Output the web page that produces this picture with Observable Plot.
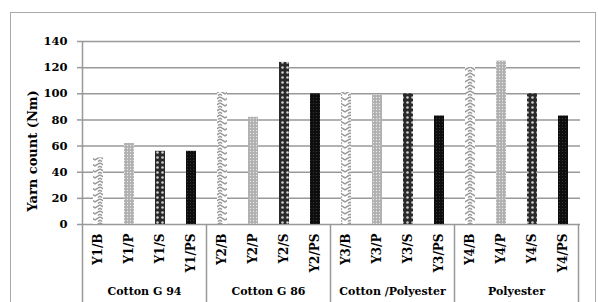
<!DOCTYPE html>
<html><head><meta charset="utf-8">
<script src="https://cdn.jsdelivr.net/npm/d3@7"></script>
<script src="https://cdn.jsdelivr.net/npm/@observablehq/plot@0.6"></script>
<style>
body{margin:0;background:#fff;}
#wrap{position:relative;width:598px;height:302px;overflow:hidden;}
#border{position:absolute;left:10px;top:12px;width:584px;height:300px;border:1.5px solid #aaa;border-bottom:none;pointer-events:none;}
svg{position:absolute;left:0;top:0;}
svg text{font-family:"DejaVu Serif",serif;font-weight:bold;}
</style>
</head><body>
<div id="wrap"><div id="border"></div></div>
<script>
const groups = ["Cotton G 94", "Cotton G 86", "Cotton /Polyester", "Polyester"];
const types = ["B", "P", "S", "PS"];
const labels = ["Y1/B","Y1/P","Y1/S","Y1/PS","Y2/B","Y2/P","Y2/S","Y2/PS","Y3/B","Y3/P","Y3/S","Y3/PS","Y4/B","Y4/P","Y4/S","Y4/PS"];
const values = [51, 62, 56, 56, 101, 82, 124, 100, 101, 99, 100, 83, 120, 125, 100, 83];
const yTicks = [0, 20, 40, 60, 80, 100, 120, 140];
const yTitle = "Yarn count (Nm)";

const data = labels.map((l, i) => ({label: l, value: values[i], type: types[i % 4], group: groups[Math.floor(i / 4)]}));

const font = "DejaVu Serif";
const plot = Plot.plot({
  width: 598, height: 302,
  marginLeft: 81, marginRight: 18, marginTop: 41, marginBottom: 78,
  style: {fontFamily: font, fontWeight: "bold", fontSize: "12px", color: "#000", background: "transparent"},
  x: {domain: labels, paddingInner: 0.68, paddingOuter: 0.34, tickRotate: -90, tickSize: 0, tickPadding: 9, label: null},
  y: {domain: [0, 140], ticks: yTicks, tickSize: 4, tickPadding: 10, label: null},
  color: {type: "ordinal", domain: types, range: ["url(#pB)", "url(#pP)", "url(#pS)", "url(#pPS)"]},
  marks: [
    Plot.gridY(yTicks, {stroke: "#999", strokeOpacity: 1, strokeWidth: 1.5}),
    Plot.barY(data, {x: "label", y: "value", fill: "type"})
  ]
});

const svg = d3.select(plot);
const defs = svg.insert("defs", ":first-child");
const pB = defs.append("pattern").attr("id", "pB").attr("patternUnits", "userSpaceOnUse").attr("width", 10).attr("height", 6);
pB.append("rect").attr("width", 10).attr("height", 6).attr("fill", "#fff");
pB.append("path").attr("d", "M0,1 L5,4 L10,1 M0,4 L2,5.5 M8,5.5 L10,4").attr("stroke", "#999").attr("stroke-width", 1.5).attr("fill", "none");
const pP = defs.append("pattern").attr("id", "pP").attr("patternUnits", "userSpaceOnUse").attr("width", 3).attr("height", 3);
pP.append("rect").attr("width", 3).attr("height", 3).attr("fill", "#b0b0b0");
pP.append("circle").attr("cx", 1.5).attr("cy", 1.5).attr("r", 0.7).attr("fill", "#e8e8e8");
const pS = defs.append("pattern").attr("id", "pS").attr("patternUnits", "userSpaceOnUse").attr("width", 5).attr("height", 5);
pS.append("rect").attr("width", 5).attr("height", 5).attr("fill", "#2a2a2a");
pS.append("circle").attr("cx", 2.5).attr("cy", 2.5).attr("r", 1.3).attr("fill", "#d0d0d0");
const pPS = defs.append("pattern").attr("id", "pPS").attr("patternUnits", "userSpaceOnUse").attr("width", 3).attr("height", 3);
pPS.append("rect").attr("width", 3).attr("height", 3).attr("fill", "#0e0e0e");
pPS.append("circle").attr("cx", 1.5).attr("cy", 1.5).attr("r", 0.5).attr("fill", "#444");

svg.selectAll("[aria-label='y-axis tick'] path, [aria-label='y-axis tick']").attr("stroke", "#999").attr("stroke-width", 1.5);
svg.selectAll("[aria-label='y-axis tick label'] text, [aria-label='y-axis tick label']").style("font-size", "11.5px");

const xs = plot.scale("x"), ys = plot.scale("y");
const gap = (xs.step - xs.bandwidth) / 2;
const y0 = ys.apply(0), yTop = ys.apply(140);
const lines = svg.append("g").attr("stroke", "#999").attr("stroke-width", 1.5);
const xLeft = xs.apply(labels[0]) - gap;
lines.append("line").attr("x1", xLeft).attr("x2", xLeft).attr("y1", yTop).attr("y2", 302);
for (let g = 1; g <= groups.length; g++) {
  const xx = g < groups.length ? xs.apply(labels[g * 4]) - gap : xs.apply(labels[labels.length - 1]) + xs.bandwidth + gap;
  lines.append("line").attr("x1", xx).attr("x2", xx).attr("y1", y0).attr("y2", 302);
}
groups.forEach((g, i) => {
  const a = xs.apply(labels[i * 4]) - gap;
  const b = xs.apply(labels[i * 4 + 3]) + xs.bandwidth + gap;
  svg.append("text").attr("x", (a + b) / 2).attr("y", 295).attr("text-anchor", "middle")
    .style("font-size", "11px").text(g);
});
svg.append("text").attr("transform", `translate(37,151) rotate(-90)`).attr("text-anchor", "middle")
  .style("font-size", "13px").text(yTitle);

document.getElementById("wrap").appendChild(plot);
</script>
</body></html>
